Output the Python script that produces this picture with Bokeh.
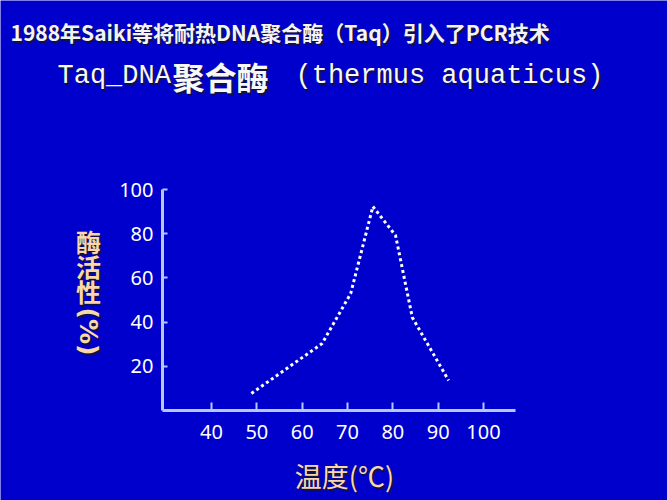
import math
from bokeh.plotting import figure
from bokeh.models import Range1d, FixedTicker, Label
from bokeh.embed import file_html
from bokeh.resources import INLINE

# ---- data ----
temperature = [48.8, 64.4, 70.7, 75.6, 80.6, 84.3, 92.3]
activity = [7.7, 30.3, 52.9, 92.3, 79.2, 42.1, 13.6]
x_ticks = [40, 50, 60, 70, 80, 90, 100]
y_ticks = [20, 40, 60, 80, 100]

title1 = "1988年Saiki等将耐热DNA聚合酶（Taq）引入了PCR技术"
title2_a = "Taq_DNA"
title2_b = "聚合酶"
title2_c = "(thermus aquaticus)"
y_label_chars = ["酶", "活", "性"]
y_label_tail = "(%)"
x_label = "温度(℃)"

# ---- styling ----
BG = "#0000CC"
AXIS = "#B4C8FF"
PEACH = "#F8D8A8"
SHADOW = "#10104A"

W, H = 667, 500
# scale: pixel positions (from top-left) of the axis corner and ticks
KX = 272 / 60          # px per degree
KY = 221 / 100         # px per percent
X40_PX, Y0_PX = 211, 410
x_start = 40 - X40_PX / KX
x_end = x_start + W / KX
y_start = -(H - Y0_PX) / KY
y_end = y_start + H / KY

AX_LEFT_PX, AX_RIGHT_PX = 162, 515

p = figure(width=W, height=H, output_backend="svg", toolbar_location=None,
           x_range=Range1d(x_start, x_end), y_range=Range1d(y_start, y_end),
           min_border=0, min_border_left=0, min_border_right=0,
           min_border_top=0, min_border_bottom=0,
           background_fill_color=BG, border_fill_color=BG,
           outline_line_color=None)
p.xgrid.visible = False
p.ygrid.visible = False


def dx(X):
    return x_start + X / KX


def dy(Y):
    return y_start + (H - Y) / KY


for ax in (p.xaxis[0], p.yaxis[0]):
    ax.axis_line_color = AXIS
    ax.axis_line_width = 3
    ax.major_tick_line_color = AXIS
    ax.major_tick_line_width = 2
    ax.minor_tick_line_color = None
    ax.major_tick_out = 0
    ax.major_label_text_color = "white"
    ax.major_label_text_font = "Noto Sans"
    ax.major_label_text_font_size = "20px"

xa = p.xaxis[0]
xa.ticker = FixedTicker(ticks=x_ticks)
xa.fixed_location = 0
xa.bounds = (dx(AX_LEFT_PX), dx(AX_RIGHT_PX))
xa.major_tick_in = 8
xa.major_label_standoff = 14

ya = p.yaxis[0]
ya.ticker = FixedTicker(ticks=y_ticks)
ya.fixed_location = dx(AX_LEFT_PX)
ya.bounds = (0, 100)
ya.major_tick_in = 5
ya.major_label_standoff = 9

p.line(temperature, activity, line_color="white", line_width=3,
       line_dash="3 3")


def add_text(text, X, Y, font, size, color, align="left", bold=False,
             angle=0.0, shadow=True):
    style = "bold" if bold else "normal"
    if shadow:
        p.add_layout(Label(x=dx(X), y=dy(Y), text=text, text_font=font,
                           text_font_size=f"{size}px", text_color=SHADOW,
                           text_align=align, text_baseline="middle",
                           text_font_style=style, angle=angle,
                           x_offset=2, y_offset=-2))
    p.add_layout(Label(x=dx(X), y=dy(Y), text=text, text_font=font,
                       text_font_size=f"{size}px", text_color=color,
                       text_align=align, text_baseline="middle",
                       text_font_style=style, angle=angle))


CJK = "Noto Sans CJK SC"
MONO = "Liberation Mono"

add_text(title1, 10, 31, CJK, 21, "#F4F4F4", bold=True)
add_text(title2_a, 57, 75, MONO, 27, "#F8F8F8")
add_text(title2_b, 172, 75, CJK, 32, "#F8F8F8", bold=True)
add_text(title2_c, 295, 75, MONO, 27, "#F8F8F8")

for i, ch in enumerate(y_label_chars):
    add_text(ch, 88, 240 + 25 * i, CJK, 25, PEACH, align="center", bold=True)
add_text(y_label_tail, 88, 331, "DejaVu Sans", 25, PEACH, align="center",
         bold=True, angle=-math.pi / 2)

add_text(x_label, 344, 475, CJK, 27, PEACH, align="center")

open("out.html", "w").write(file_html(p, INLINE))
